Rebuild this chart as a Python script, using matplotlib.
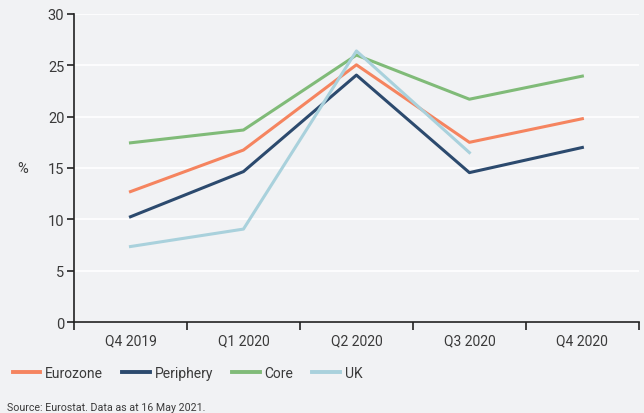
import numpy as np
import matplotlib.pyplot as plt

quarters = ['Q4 2019', 'Q1 2020', 'Q2 2020', 'Q3 2020', 'Q4 2020']
eurozone = [12.7, 16.75, 25.05, 17.5, 19.8]
periphery = [10.25, 14.65, 24.05, 14.55, 17.0]
core = [17.45, 18.7, 26.0, 21.7, 23.95]
uk = [7.35, 9.05, 26.4, 16.5, np.nan]

BG = '#f1f2f4'
TXT = '#3a3a3a'
plt.rcParams['font.family'] = ['Roboto', 'DejaVu Sans']

fig = plt.figure(figsize=(6.44, 4.14), dpi=100, facecolor=BG)
ax = fig.add_axes([0.1149, 0.2198, 0.8771, 0.744], facecolor=BG)

x = np.arange(len(quarters))
ax.plot(x, eurozone, color='#f5845f', lw=2.2, label='Eurozone')
ax.plot(x, periphery, color='#2c4a6e', lw=2.2, label='Periphery')
ax.plot(x, core, color='#80bb78', lw=2.2, label='Core')
ax.plot(x, uk, color='#a9d1dc', lw=2.2, label='UK')

ax.set_xlim(-0.5, 4.5)
ax.set_ylim(0, 30)
ax.set_yticks(range(0, 31, 5))
ax.yaxis.grid(True, color='white', lw=1.2)
ax.set_axisbelow(True)

ax.set_xticks(x)
ax.set_xticklabels(quarters)
ax.set_xticks(np.arange(-0.5, 5, 1), minor=True)
ax.tick_params(axis='x', which='major', length=0, pad=8, labelsize=10, colors=TXT)
ax.tick_params(axis='x', which='minor', length=6, width=1.2, color='#222222')
ax.tick_params(axis='y', length=5, width=1.2, color='#222222', labelsize=10.5, labelcolor=TXT, pad=2)

for s in ['top', 'right']:
    ax.spines[s].set_visible(False)
for s in ['left', 'bottom']:
    ax.spines[s].set_color('#222222')
    ax.spines[s].set_linewidth(1.2)

ax.set_ylabel('%', rotation=0, fontsize=10.5, color=TXT, labelpad=18, va='center')

leg = fig.legend(loc='center left', bbox_to_anchor=(0.0, 0.096), ncol=4, frameon=False,
                 fontsize=10, handlelength=2.0, columnspacing=1.35, handletextpad=0.35)
for t in leg.get_texts():
    t.set_color(TXT)
for h in leg.legend_handles:
    h.set_linewidth(2.8)

fig.text(0.011, 0.008, 'Source: Eurostat. Data as at 16 May 2021.', fontsize=7.7, color=TXT)

fig.savefig('out.png', dpi=100, facecolor=BG)
